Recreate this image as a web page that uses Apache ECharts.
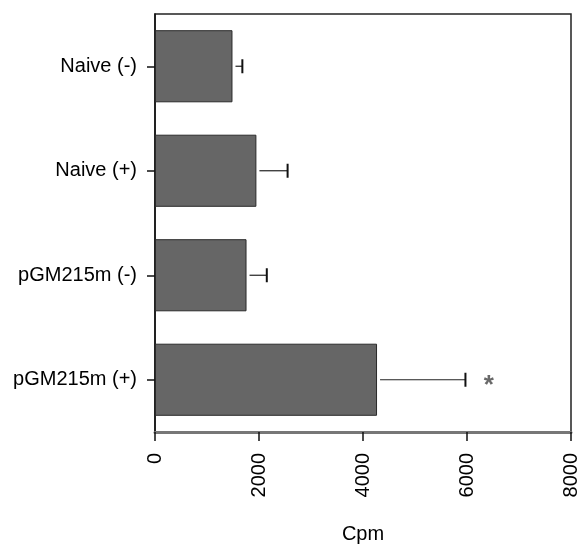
<!DOCTYPE html>
<html>
<head>
<meta charset="utf-8">
<script src="https://cdn.jsdelivr.net/npm/echarts@6/dist/echarts.min.js"></script>
<style>
  html, body { margin: 0; padding: 0; background: #fff; }
  #chart { width: 584px; height: 546px; }
</style>
</head>
<body>
<div id="chart"></div>
<script>
// groups, top to bottom
const categories = ['Naive (-)', 'Naive (+)', 'pGM215m (-)', 'pGM215m (+)'];
// mean Cpm
const means = [1490, 1950, 1760, 4270];
// upper error (Cpm above mean)
const errors = [190, 600, 390, 1700];
// significance marks
const marks = ['', '', '', '*'];
const xTicks = [0, 2000, 4000, 6000, 8000];

const font = 'Liberation Sans, Arial, Helvetica, sans-serif';

let chart = echarts.init(document.getElementById('chart'));

let errData = means.map((m, i) => [m, errors[i], i]);
let starData = [];
marks.forEach((s, i) => {
    if (s) starData.push({ value: [means[i] + errors[i] + 450, i], mark: s });
});

chart.setOption({
    animation: false,
    grid: {
        left: 155, right: 13, top: 14, bottom: 114,
        outerBoundsMode: 'none',
        show: true, borderColor: '#222', borderWidth: 1.5
    },
    xAxis: {
        type: 'value',
        min: xTicks[0], max: xTicks[xTicks.length - 1], interval: 2000,
        name: 'Cpm', nameLocation: 'middle', nameGap: 92,
        nameTextStyle: { fontFamily: font, fontSize: 20, color: '#000' },
        axisLine: { show: true, lineStyle: { color: '#777', width: 3 } },
        axisTick: { show: true, length: 9, lineStyle: { color: '#111', width: 1.5 } },
        axisLabel: {
            rotate: 90, margin: 21, fontFamily: font, fontSize: 20, color: '#000',
            formatter: v => String(v)
        },
        splitLine: { show: false }
    },
    yAxis: {
        type: 'category', data: categories, inverse: true,
        axisLine: { show: true, lineStyle: { color: '#111', width: 1.5 } },
        axisTick: { show: true, alignWithLabel: true, length: 8, lineStyle: { color: '#111', width: 1.5 } },
        axisLabel: { margin: 18, fontFamily: font, fontSize: 20, color: '#000' }
    },
    series: [
        {
            type: 'bar', data: means, barWidth: '69%',
            itemStyle: { color: '#666666', borderColor: '#2a2a2a', borderWidth: 1 }
        },
        {
            type: 'custom', data: errData, z: 3,
            renderItem: function (params, api) {
                let start = api.coord([api.value(0), api.value(2)]);
                let end = api.coord([api.value(0) + api.value(1), api.value(2)]);
                let style = { stroke: '#222', lineWidth: 1.2 };
                return {
                    type: 'group',
                    children: [
                        { type: 'line', shape: { x1: start[0] + 3, y1: start[1], x2: end[0], y2: end[1] }, style: style },
                        { type: 'line', shape: { x1: end[0], y1: end[1] - 7, x2: end[0], y2: end[1] + 7 }, style: { stroke: '#111', lineWidth: 2 } }
                    ]
                };
            }
        },
        {
            type: 'scatter', data: starData, symbolSize: 0,
            label: {
                show: true, position: 'inside', formatter: p => p.data.mark,
                fontFamily: font, fontSize: 26, fontWeight: 'bold', color: '#444', offset: [0, 6]
            }
        }
    ]
});
</script>
</body>
</html>
